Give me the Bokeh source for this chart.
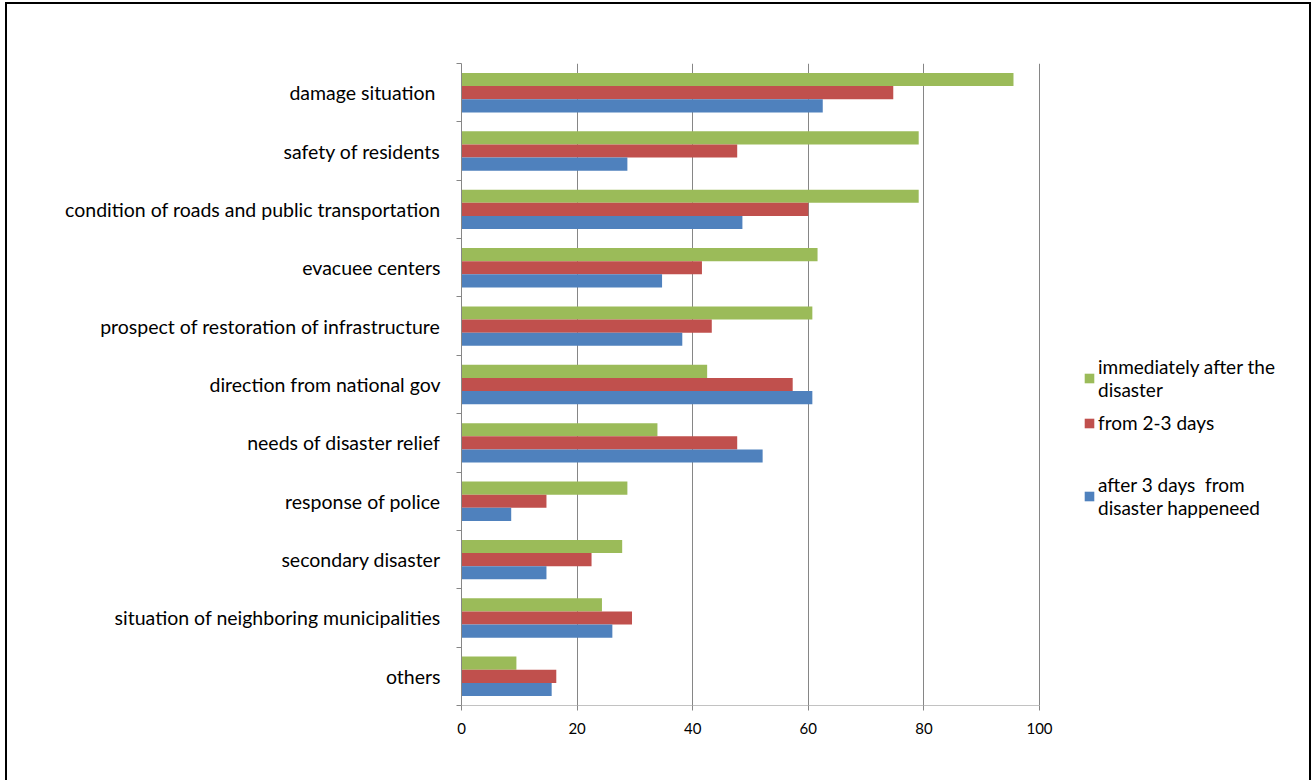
from bokeh.plotting import figure
from bokeh.models import ColumnDataSource, FixedTicker, Legend, LegendItem, Range1d
from bokeh.embed import file_html
from bokeh.resources import INLINE

# Categories listed bottom to top
categories = [
    "others",
    "situation of neighboring municipalities",
    "secondary disaster",
    "response of police",
    "needs of disaster relief",
    "direction from national gov",
    "prospect of restoration of infrastructure",
    "evacuee centers",
    "condition of roads and public transportation",
    "safety of residents",
    "damage situation ",
]
immediately = [9.5, 24.3, 27.8, 28.7, 33.9, 42.5, 60.7, 61.6, 79.1, 79.1, 95.5]
from_2_3_days = [16.4, 29.5, 22.5, 14.7, 47.7, 57.3, 43.3, 41.6, 60.0, 47.7, 74.7]
after_3_days = [15.6, 26.1, 14.7, 8.6, 52.1, 60.7, 38.2, 34.7, 48.6, 28.7, 62.5]
x_ticks = [0, 20, 40, 60, 80, 100]
series_names = ["immediately after the\ndisaster", "from 2-3 days", "after 3 days  from\ndisaster happeneed"]
colors = ["#9BBB59", "#C0504D", "#4F81BD"]

n = len(categories)
centers = [i + 0.5 for i in range(n)]
bar_h = 0.225

# layout: value axis spans 578 px, frame continues to the right to hold the legend
axis_px = 578
frame_px = 852
x_end = x_ticks[-1] * frame_px / axis_px

src = ColumnDataSource(dict(
    y=centers,
    y_g=[c + bar_h for c in centers],
    y_b=[c - bar_h for c in centers],
    g=immediately, r=from_2_3_days, b=after_3_days,
))

p = figure(width=1306, height=778, output_backend="svg", toolbar_location=None,
           x_range=Range1d(0, x_end), y_range=Range1d(0, n),
           min_border_left=454, min_border_right=0, min_border_top=59, min_border_bottom=77,
           styles={"margin-left": "5px", "margin-top": "2px", "border-left": "2px solid #000",
                   "border-top": "2px solid #000", "border-right": "2px solid #000"})
p.outline_line_color = None
p.background_fill_color = "white"
p.border_fill_color = "white"

rg = p.hbar(y="y_g", right="g", left=0, height=bar_h, source=src, fill_color=colors[0], line_color=None)
rr = p.hbar(y="y", right="r", left=0, height=bar_h, source=src, fill_color=colors[1], line_color=None)
rb = p.hbar(y="y_b", right="b", left=0, height=bar_h, source=src, fill_color=colors[2], line_color=None)

# value axis line only from first to last tick
p.segment(x0=[x_ticks[0]], x1=[x_ticks[-1]], y0=[0], y1=[0], line_color="#868686", line_width=1)

# x axis
p.xaxis.ticker = FixedTicker(ticks=x_ticks)
p.xaxis.axis_line_color = None
p.xaxis.major_tick_line_color = "#868686"
p.xaxis.major_tick_out = 5
p.xaxis.major_tick_in = 0
p.xaxis.minor_tick_line_color = None
p.xaxis.major_label_text_font = "Lato"
p.xaxis.major_label_text_font_size = "15px"
p.xaxis.major_label_text_color = "#000000"
p.xaxis.major_label_standoff = 12
p.xgrid.ticker = FixedTicker(ticks=x_ticks)
p.xgrid.grid_line_color = "#868686"
p.xgrid.grid_line_width = 1

# y axis
p.yaxis.ticker = FixedTicker(ticks=centers, minor_ticks=list(range(n + 1)))
p.yaxis.major_label_overrides = {c: lab for c, lab in zip(centers, categories)}
p.yaxis.axis_line_color = "#868686"
p.yaxis.major_tick_line_color = None
p.yaxis.major_tick_out = 0
p.yaxis.major_tick_in = 0
p.yaxis.minor_tick_line_color = "#868686"
p.yaxis.minor_tick_out = 5
p.yaxis.minor_tick_in = 0
p.yaxis.major_label_text_font = "Lato"
p.yaxis.major_label_text_font_size = "19.5px"
p.yaxis.major_label_text_color = "#000000"
p.yaxis.major_label_standoff = 16
p.ygrid.grid_line_color = None


def style_legend(lg):
    lg.border_line_color = None
    lg.background_fill_alpha = 0
    lg.padding = 0
    lg.margin = 0
    lg.spacing = 10
    lg.glyph_width = 12
    lg.glyph_height = 12
    lg.label_standoff = 3
    lg.label_text_font = "Lato"
    lg.label_text_font_size = "19px"
    lg.label_text_color = "#000000"
    lg.label_text_line_height = 1.4


legend_a = Legend(items=[
    LegendItem(label=series_names[0], renderers=[rg]),
    LegendItem(label=series_names[1], renderers=[rr]),
], location=(622, 271))
legend_b = Legend(items=[
    LegendItem(label=series_names[2], renderers=[rb]),
], location=(622, 186))
style_legend(legend_a)
style_legend(legend_b)
p.add_layout(legend_a, "center")
p.add_layout(legend_b, "center")

open("out.html", "w").write(file_html(p, INLINE))
